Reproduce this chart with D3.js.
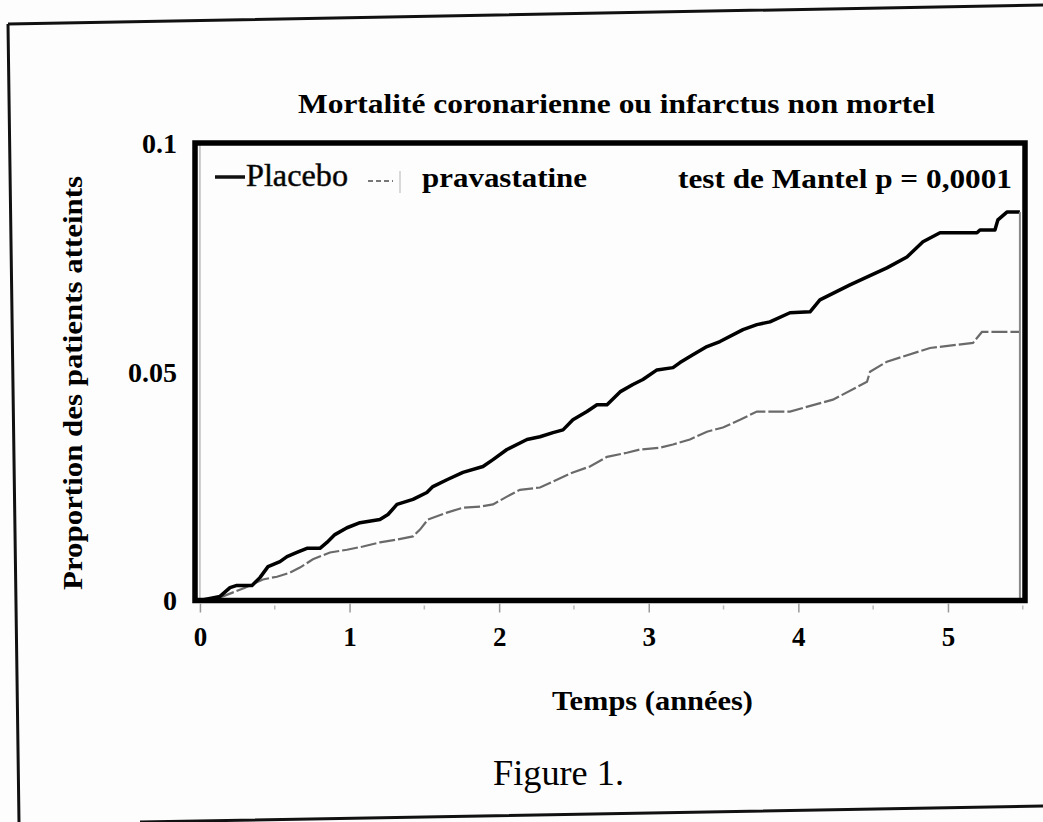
<!DOCTYPE html>
<html>
<head>
<meta charset="utf-8">
<script src="https://cdn.jsdelivr.net/npm/d3@7"></script>
<style>
  body { margin: 0; background: #fff; }
  text { font-family: "Liberation Serif", "DejaVu Serif", serif; fill: #000; }
</style>
</head>
<body>
<div id="chart"></div>
<script>
// time (years) / cumulative proportion
const placeboT = [0, 0.134, 0.201, 0.247, 0.348, 0.401, 0.455, 0.535, 0.582, 0.648, 0.715, 0.802, 0.849, 0.902, 0.983,
  1.070, 1.203, 1.257, 1.317, 1.424, 1.517, 1.557, 1.651, 1.758, 1.892, 1.959, 2.052, 2.186, 2.273, 2.360, 2.427,
  2.493, 2.587, 2.654, 2.721, 2.808, 2.894, 2.961, 3.055, 3.162, 3.209, 3.295, 3.389, 3.476, 3.630, 3.723, 3.810,
  3.944, 4.078, 4.144, 4.345, 4.479, 4.592, 4.726, 4.833, 4.947, 5.194, 5.214, 5.314, 5.334, 5.394, 5.481];
const placeboV = [0, 0.0009, 0.0028, 0.0033, 0.0033, 0.0050, 0.0074, 0.0085, 0.0096, 0.0105, 0.0114, 0.0114, 0.0127, 0.0144, 0.0159,
  0.0170, 0.0177, 0.0188, 0.0210, 0.0221, 0.0236, 0.0249, 0.0264, 0.0280, 0.0293, 0.0308, 0.0330, 0.0352, 0.0358, 0.0367, 0.0373,
  0.0395, 0.0413, 0.0428, 0.0428, 0.0456, 0.0472, 0.0483, 0.0504, 0.0509, 0.0520, 0.0537, 0.0555, 0.0566, 0.0592, 0.0603, 0.0609,
  0.0629, 0.0631, 0.0657, 0.0690, 0.0710, 0.0727, 0.0751, 0.0784, 0.0804, 0.0804, 0.0810, 0.0810, 0.0832, 0.0849, 0.0849];

const pravaT = [0, 0.154, 0.301, 0.421, 0.515, 0.602, 0.668, 0.755, 0.869, 0.983, 1.090, 1.203, 1.317, 1.424, 1.471, 1.524,
  1.651, 1.758, 1.872, 1.959, 2.052, 2.139, 2.273, 2.360, 2.493, 2.607, 2.721, 2.854, 2.941, 3.075, 3.162, 3.275, 3.389,
  3.496, 3.610, 3.723, 3.944, 4.231, 4.459, 4.479, 4.592, 4.880, 5.167, 5.227, 5.481];
const pravaV = [0, 0.0009, 0.0028, 0.0046, 0.0052, 0.0061, 0.0072, 0.0090, 0.0105, 0.0111, 0.0118, 0.0127, 0.0133, 0.0140, 0.0155, 0.0177,
  0.0192, 0.0203, 0.0205, 0.0210, 0.0227, 0.0242, 0.0247, 0.0260, 0.0280, 0.0293, 0.0314, 0.0323, 0.0330, 0.0334, 0.0341, 0.0352, 0.0369,
  0.0378, 0.0395, 0.0413, 0.0413, 0.0439, 0.0478, 0.0500, 0.0522, 0.0552, 0.0563, 0.0587, 0.0587];

const xTicks = [0, 1, 2, 3, 4, 5];
const xMinorTicks = [0.5, 1.5, 2.5, 3.5, 4.5, 5.5];
const yTicks = [0, 0.05, 0.1];
const yTickLabels = ["0", "0.05", "0.1"];

const svgWidth = 1043, svgHeight = 822;
const plot = {left: 195, right: 1025, top: 143, bottom: 600.5};

let svg = d3.select("#chart").append("svg")
    .attr("width", svgWidth)
    .attr("height", svgHeight)
    .style("display", "block");

svg.append("rect").attr("width", svgWidth).attr("height", svgHeight).attr("fill", "#fdfdfd");

// scanned page border, slightly rotated
svg.append("path")
    .attr("d", "M8,24 L1043,5 M8,24 L19,822 M140,822 L1043,806")
    .attr("fill", "none")
    .attr("stroke", "#111")
    .attr("stroke-width", 3);

let x = d3.scaleLinear().domain([-0.033, 5.515]).range([plot.left, plot.right]),
    y = d3.scaleLinear().domain([0, 0.1]).range([plot.bottom, plot.top]);

// faint axis line at t = 0
svg.append("line")
    .attr("x1", x(0)).attr("x2", x(0))
    .attr("y1", y(0)).attr("y2", y(0.1))
    .attr("stroke", "#bbb").attr("stroke-width", 1.5);

let line = d3.line()
    .x(d => x(d[0]))
    .y(d => y(d[1]));

let prava = pravaT.map((t, i) => [t, pravaV[i]]);
let placebo = placeboT.map((t, i) => [t, placeboV[i]]);

svg.append("path")
    .datum(prava)
    .attr("d", line)
    .attr("fill", "none")
    .attr("stroke", "#6a6a6a")
    .attr("stroke-width", 2.2)
    .attr("stroke-dasharray", "16 3");

svg.append("path")
    .datum(placebo)
    .attr("d", line)
    .attr("fill", "none")
    .attr("stroke", "#000")
    .attr("stroke-width", 3.5)
    .attr("stroke-linejoin", "round");

// censoring line at the end of follow-up
let tEnd = placeboT[placeboT.length - 1];
svg.append("line")
    .attr("x1", x(tEnd)).attr("x2", x(tEnd))
    .attr("y1", y(placeboV[placeboV.length - 1])).attr("y2", y(0))
    .attr("stroke", "#888").attr("stroke-width", 2);

// frame
svg.append("rect")
    .attr("x", plot.left).attr("y", plot.top)
    .attr("width", plot.right - plot.left)
    .attr("height", plot.bottom - plot.top)
    .attr("fill", "none")
    .attr("stroke", "#000")
    .attr("stroke-width", 5.5);

// x axis
let xAxis = svg.append("g")
    .attr("transform", `translate(0, ${plot.bottom + 3})`)
    .call(d3.axisBottom(x).tickValues(xTicks).tickSize(9).tickPadding(14).tickFormat(d3.format("d")));
xAxis.select(".domain").remove();
xAxis.selectAll(".tick line").attr("stroke", "#999").attr("stroke-width", 1.5);
xAxis.selectAll(".tick text")
    .style("font-family", '"Liberation Serif", serif')
    .style("font-size", "27px")
    .style("font-weight", "bold")
    .attr("fill", "#111");

svg.append("g")
    .selectAll("line")
    .data(xMinorTicks)
    .enter().append("line")
    .attr("x1", d => x(d)).attr("x2", d => x(d))
    .attr("y1", plot.bottom + 5).attr("y2", plot.bottom + 9)
    .attr("stroke", "#bbb").attr("stroke-width", 1.5);

// y tick labels
svg.append("g")
    .selectAll("text")
    .data(yTicks)
    .enter().append("text")
    .attr("x", plot.left - 18)
    .attr("y", d => y(d))
    .attr("dy", "0.35em")
    .attr("text-anchor", "end")
    .style("font-size", "28px")
    .style("font-weight", "bold")
    .attr("fill", "#222")
    .text((d, i) => yTickLabels[i]);

// titles
svg.append("text")
    .attr("x", 298).attr("y", 113)
    .attr("textLength", 637).attr("lengthAdjust", "spacingAndGlyphs")
    .style("font-size", "27px").style("font-weight", "bold")
    .text("Mortalité coronarienne ou infarctus non mortel");

svg.append("text")
    .attr("transform", "translate(82, 383) rotate(-90)")
    .attr("text-anchor", "middle")
    .attr("textLength", 414).attr("lengthAdjust", "spacingAndGlyphs")
    .style("font-size", "27px").style("font-weight", "bold")
    .text("Proportion des patients atteints");

svg.append("text")
    .attr("x", 552).attr("y", 710)
    .attr("textLength", 201).attr("lengthAdjust", "spacingAndGlyphs")
    .style("font-size", "28px").style("font-weight", "bold")
    .text("Temps (années)");

svg.append("text")
    .attr("x", 493).attr("y", 785)
    .attr("textLength", 131).attr("lengthAdjust", "spacingAndGlyphs")
    .style("font-size", "36px")
    .attr("fill", "#333")
    .text("Figure 1.");

// legend
let legend = svg.append("g");
legend.append("line")
    .attr("x1", 215).attr("x2", 245).attr("y1", 177).attr("y2", 177)
    .attr("stroke", "#111").attr("stroke-width", 3.5);
legend.append("text")
    .attr("x", 246).attr("y", 186)
    .attr("textLength", 102).attr("lengthAdjust", "spacingAndGlyphs")
    .style("font-size", "31px")
    .attr("fill", "#222")
    .attr("stroke", "#222").attr("stroke-width", 0.5)
    .text("Placebo");
legend.append("line")
    .attr("x1", 368).attr("x2", 393).attr("y1", 181).attr("y2", 181)
    .attr("stroke", "#777").attr("stroke-width", 2)
    .attr("stroke-dasharray", "5 3");
legend.append("line")
    .attr("x1", 400).attr("x2", 400).attr("y1", 171).attr("y2", 193)
    .attr("stroke", "#ccc").attr("stroke-width", 1.5);
legend.append("text")
    .attr("x", 422).attr("y", 187)
    .attr("textLength", 165).attr("lengthAdjust", "spacingAndGlyphs")
    .style("font-size", "28px").style("font-weight", "bold")
    .text("pravastatine");

svg.append("text")
    .attr("x", 678).attr("y", 188)
    .attr("textLength", 334).attr("lengthAdjust", "spacingAndGlyphs")
    .style("font-size", "27px").style("font-weight", "bold")
    .text("test de Mantel p = 0,0001");
</script>
</body>
</html>
